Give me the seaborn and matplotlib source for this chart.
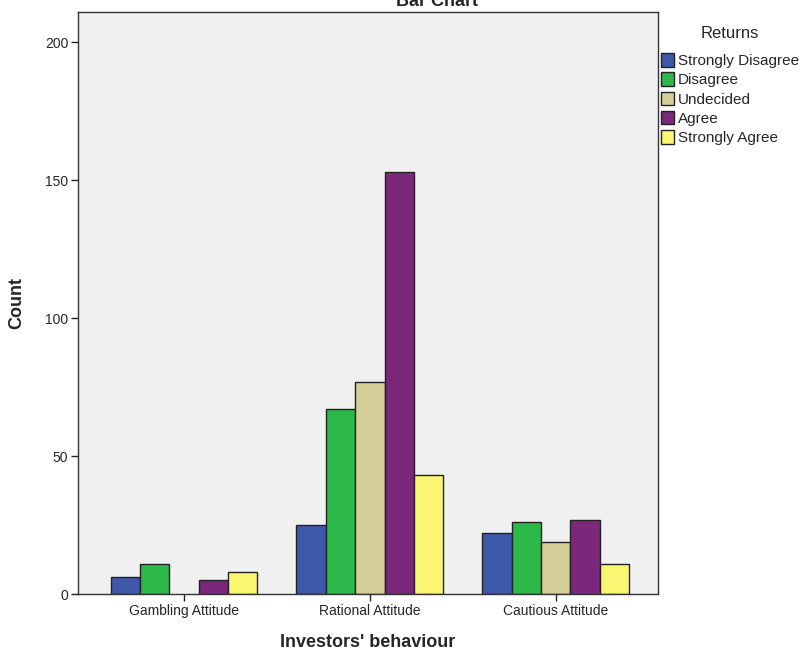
import numpy as np
import pandas as pd
import matplotlib
matplotlib.use("Agg")
import matplotlib.pyplot as plt
import seaborn as sns

# data
behaviours = ["Gambling Attitude", "Rational Attitude", "Cautious Attitude"]
returns = ["Strongly Disagree", "Disagree", "Undecided", "Agree", "Strongly Agree"]
gambling = [6, 11, np.nan, 5, 8]
rational = [25, 67, 77, 153, 43]
cautious = [22, 26, 19, 27, 11]
colors = ["#3E58AC", "#2DB84A", "#D4CF98", "#7B287B", "#FBF672"]

rows = []
for beh, vals in zip(behaviours, [gambling, rational, cautious]):
    for ret, v in zip(returns, vals):
        rows.append({"Behaviour": beh, "Returns": ret, "Count": v})
df = pd.DataFrame(rows).dropna()

sns.set_style("white")
plt.rcParams["font.family"] = ["Arial", "Liberation Sans", "DejaVu Sans"]

fig = plt.figure(figsize=(8.03, 6.56), dpi=100)
ax = fig.add_axes([78 / 803, 62 / 656, 580 / 803, 582 / 656])
ax.set_facecolor("#F0F0F0")

sns.barplot(data=df, x="Behaviour", y="Count", hue="Returns",
            order=behaviours, hue_order=returns, palette=colors,
            saturation=1, width=0.79, edgecolor="#222222", linewidth=1.0,
            errorbar=None, ax=ax)

ax.set_xlim(-0.57, 2.55)
ax.set_ylim(0, 211)
ax.set_yticks([0, 50, 100, 150, 200])
ax.tick_params(axis="both", direction="out", length=5, width=1,
               color="#222222", labelsize=10, left=True, bottom=True, pad=2)
for s in ax.spines.values():
    s.set_color("#333333")
    s.set_linewidth(1)

ax.set_xlabel("Investors' behaviour", fontsize=13, fontweight="bold", labelpad=12)
ax.set_ylabel("Count", fontsize=13, fontweight="bold", labelpad=14)

handles, labels = ax.get_legend_handles_labels()
ax.get_legend().remove()
leg = fig.legend(handles, labels, title="Returns", loc="upper left",
                 bbox_to_anchor=(661 / 803, 1 - 34 / 656), frameon=False,
                 fontsize=11, title_fontsize=12, handlelength=0.85,
                 handleheight=1.0, handletextpad=0.25, labelspacing=0.27,
                 borderaxespad=0, borderpad=0)
leg.get_title().set_position((0, 8))
for p in leg.get_patches():
    p.set_edgecolor("#222222")

fig.text(437 / 803, 1 - 2 / 656, "Bar Chart", ha="center", va="center",
         fontsize=13, fontweight="bold")

fig.savefig("out.png", dpi=100)
